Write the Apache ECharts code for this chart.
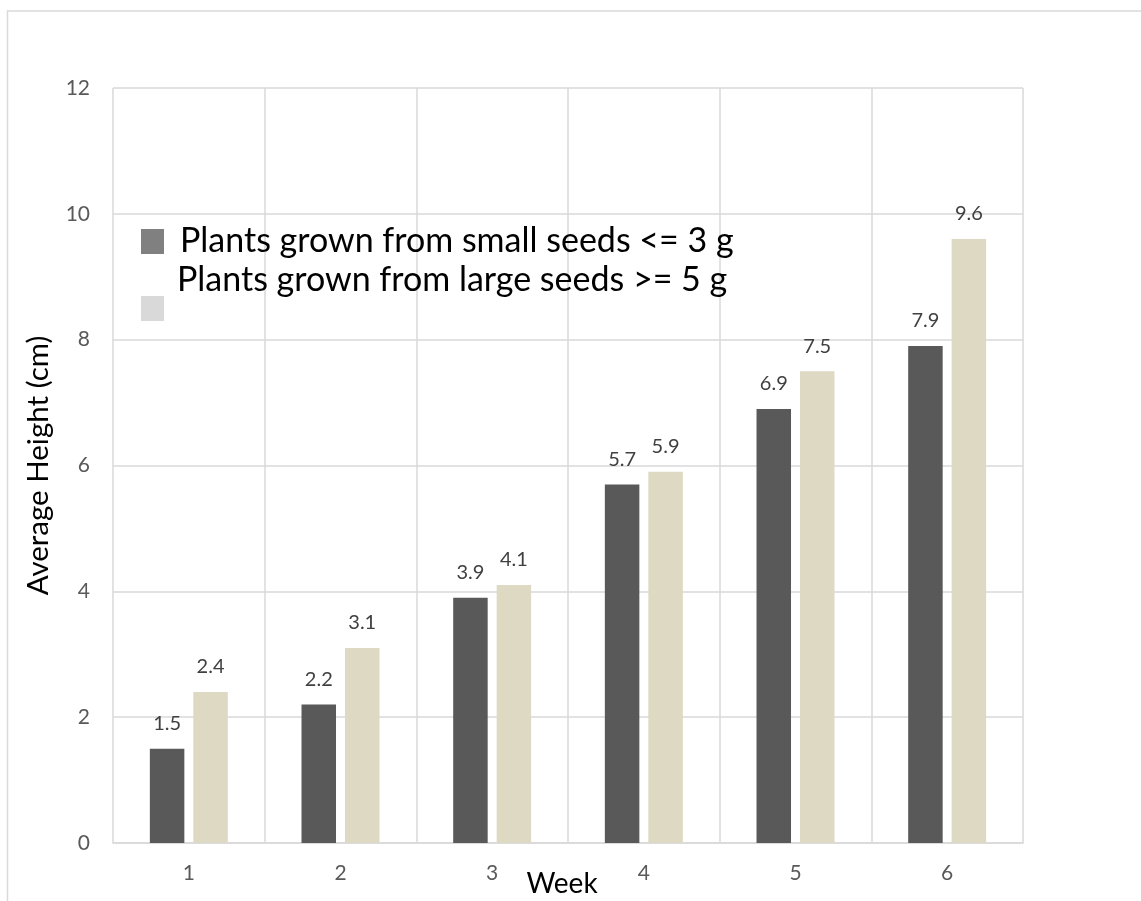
<!DOCTYPE html>
<html>
<head>
<meta charset="utf-8">
<script src="https://cdn.jsdelivr.net/npm/echarts@6/dist/echarts.min.js"></script>
<style>html,body{margin:0;padding:0;background:#fff;}#chart{width:1141px;height:901px;}</style>
</head>
<body>
<div id="chart"></div>
<script>
const weeks = ['1', '2', '3', '4', '5', '6'];
const smallSeeds = [1.5, 2.2, 3.9, 5.7, 6.9, 7.9];
const largeSeeds = [2.4, 3.1, 4.1, 5.9, 7.5, 9.6];
const seriesNames = ['Plants grown from small seeds <= 3 g', 'Plants grown from large seeds >= 5 g'];
const yTicks = { min: 0, max: 12, interval: 2 };

const chart = echarts.init(document.getElementById('chart'));
const font = 'Lato, "Open Sans", sans-serif';
const labelCfg = { show: true, position: 'top', distance: 15, color: '#404040', fontSize: 20, fontFamily: font };
chart.setOption({
  animation: false,
  graphic: [{ type: 'rect', silent: true, shape: { x: 7.5, y: 11, width: 1300, height: 1000 }, style: { fill: 'none', stroke: '#d9d9d9', lineWidth: 1.5 } }],
  legend: [
    { data: [{ name: seriesNames[0], itemStyle: { color: '#808080' } }], left: 141, top: 224.5, padding: 0, itemWidth: 23, itemHeight: 25, icon: 'rect',
      formatter: n => '{s|}' + n,
      textStyle: { fontSize: 34, color: '#000', fontFamily: font, rich: { s: { width: 11 } } } },
    { data: [{ name: seriesNames[1], itemStyle: { color: '#d9d9d9' } }], left: 141, top: 260.5, padding: 0, itemWidth: 23, itemHeight: 25, icon: 'rect',
      formatter: n => '{s|}' + n + '\n{b| }',
      textStyle: { fontSize: 34, lineHeight: 40, color: '#000', fontFamily: font, rich: { s: { width: 8 }, b: { lineHeight: 56, fontSize: 10 } } } }
  ],
  grid: { left: 113, right: 118, top: 88, bottom: 58, containLabel: false, outerBoundsMode: 'none' },
  xAxis: {
    type: 'category', data: weeks,
    name: 'Week', nameLocation: 'middle', nameGap: 27, nameMoveOverlap: false,
    nameTextStyle: { fontSize: 28, color: '#000', fontFamily: font, padding: [0, 12, 0, 0] },
    axisLine: { show: true, lineStyle: { color: '#d9d9d9', width: 1.5 } },
    axisTick: { show: false },
    splitLine: { show: true, interval: 0, lineStyle: { color: '#d9d9d9', width: 1.5 } },
    axisLabel: { color: '#595959', fontSize: 21, fontFamily: font, margin: 20 }
  },
  yAxis: {
    type: 'value', min: yTicks.min, max: yTicks.max, interval: yTicks.interval,
    name: 'Average Height (cm)', nameLocation: 'middle', nameGap: 60, nameMoveOverlap: false,
    nameTextStyle: { fontSize: 29.5, color: '#000', fontFamily: font },
    axisLine: { show: false }, axisTick: { show: false },
    splitLine: { show: true, lineStyle: { color: '#d9d9d9', width: 1.5 } },
    axisLabel: { color: '#595959', fontSize: 21, fontFamily: font, margin: 23 }
  },
  series: [
    { name: seriesNames[0], type: 'bar', data: smallSeeds, barWidth: 34.5, barGap: '26%', itemStyle: { color: '#595959' }, label: labelCfg },
    { name: seriesNames[1], type: 'bar', data: largeSeeds, barWidth: 34.5, barGap: '26%', itemStyle: { color: '#ddd9c3' }, label: labelCfg }
  ]
});
</script>
</body>
</html>
